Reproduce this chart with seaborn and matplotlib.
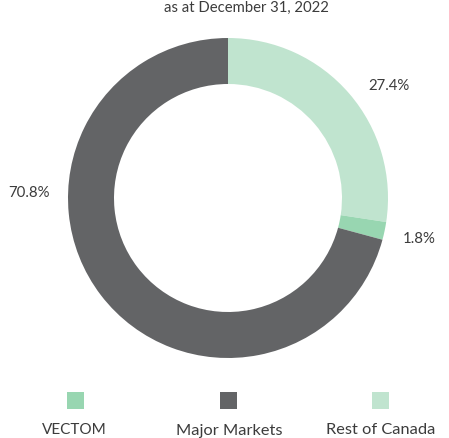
import matplotlib
matplotlib.use("Agg")
import matplotlib.pyplot as plt
import seaborn as sns
from matplotlib.patches import Rectangle

labels = ['Rest of Canada', 'VECTOM', 'Major Markets']
shares = [27.4, 1.8, 70.8]
share_labels = ['27.4%', '1.8%', '70.8%']
legend_order = ['VECTOM', 'Major Markets', 'Rest of Canada']
colors = {'Rest of Canada': '#c0e4cf', 'VECTOM': '#98d6b1', 'Major Markets': '#636466'}

sns.set_theme(style='white')
plt.rcParams['font.family'] = ['Lato', 'DejaVu Sans']

fig = plt.figure(figsize=(4.49, 4.38), dpi=100)
ax = fig.add_axes([0, 0, 1, 1])
ax.set_xlim(0, 449)
ax.set_ylim(438, 0)
ax.set_aspect('equal')
ax.axis('off')

# donut in its own axes so pie scales handle it
pie_ax = fig.add_axes([68 / 449, 1 - 358 / 438, 320 / 449, 320 / 438])
wedges, _ = pie_ax.pie(shares, colors=[colors[k] for k in labels], startangle=90,
                       counterclock=False, radius=1.0,
                       wedgeprops={'width': 0.2875, 'edgecolor': 'none'})
pie_ax.set_xlim(-1, 1)
pie_ax.set_ylim(-1, 1)

text_col = '#3c3c3c'
ax.text(246.5, 8, 'as at December 31, 2022', ha='center', va='center', fontsize=10.7, color=text_col)
ax.text(388.5, 86, share_labels[0], ha='center', va='center', fontsize=10.8, color=text_col)
ax.text(419, 239, share_labels[1], ha='center', va='center', fontsize=10.8, color=text_col)
ax.text(29, 193, share_labels[2], ha='center', va='center', fontsize=10.8, color=text_col)

for name, xc, xt, size in zip(legend_order, [75.5, 228.5, 380.5], [74.5, 229, 381], [11, 11.8, 11.8]):
    ax.add_patch(Rectangle((xc - 8.5, 392), 17, 17, color=colors[name], lw=0))
    ax.text(xt, 434.5, name, ha='center', va='baseline', fontsize=size, color=text_col)

fig.savefig('out.png', dpi=100)
